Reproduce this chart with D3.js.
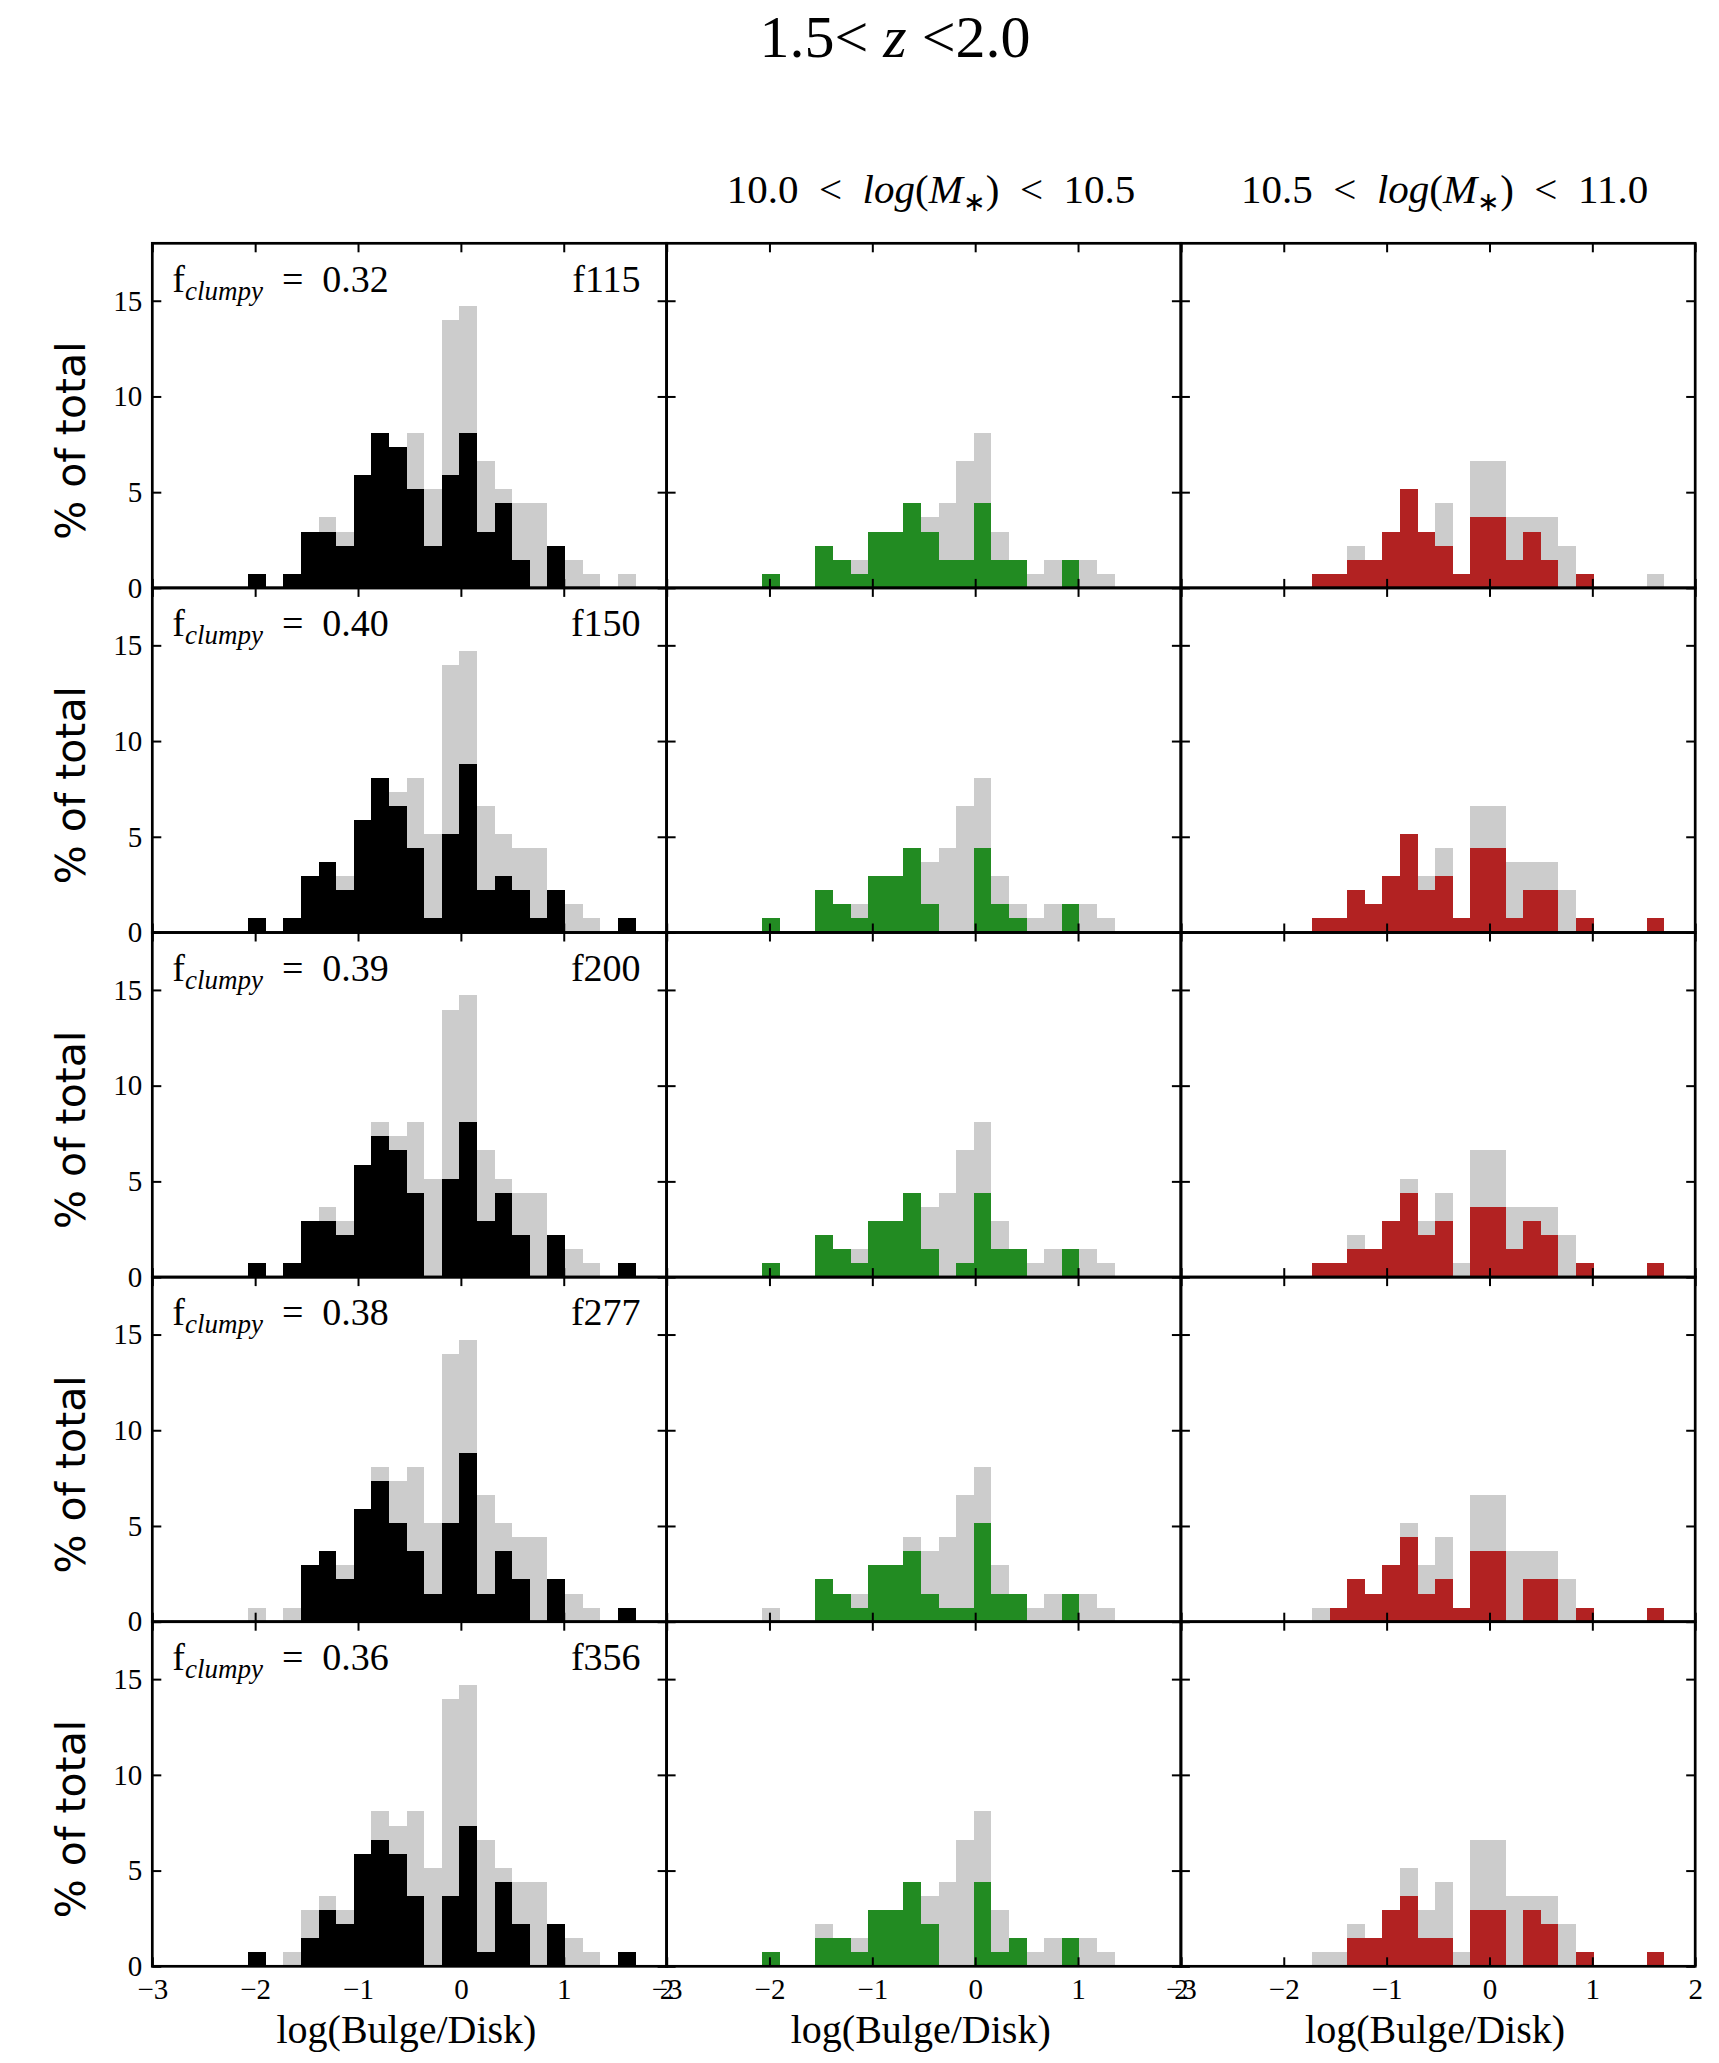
<!DOCTYPE html>
<html>
<head>
<meta charset="utf-8" />
<title>bulge/disk</title>
<script src="https://cdn.jsdelivr.net/npm/d3@7"></script>
<style>
  body { margin: 0; background: #fff; }
  text { font-family: "Liberation Serif", serif; white-space: pre; }
</style>
</head>
<body>
<svg width="1719" height="2063"></svg>
<script>
// bin edges of log(Bulge/Disk), 22 bins
var binEdges = [-2.068,-1.897,-1.726,-1.554,-1.383,-1.212,-1.041,-0.870,-0.698,-0.527,-0.356,
                -0.185,-0.014,0.158,0.329,0.500,0.671,0.842,1.013,1.185,1.356,1.527,1.698];
var filters = ["f115","f150","f200","f277","f356"];
var fClumpy = ["0.32","0.40","0.39","0.38","0.36"];
var massLow = ["10.0","10.5"];
var massHigh = ["10.5","11.0"];
var xTicks = [-3,-2,-1,0,1,2];
var yTicks = [0,5,10,15];

// % of total, all masses
var allGray  = [0.74,0,0.74,2.94,3.68,2.94,5.88,8.09,7.35,8.09,5.15,13.97,14.71,6.62,5.15,4.41,4.41,2.21,1.47,0.74,0,0.74];
var blackF115 = [0.74,0,0.74,2.94,2.94,2.21,5.88,8.09,7.35,5.15,2.21,5.88,8.09,2.94,4.41,1.47,0,2.21,0,0,0,0];
var blackF150 = [0.74,0,0.74,2.94,3.68,2.21,5.88,8.09,6.62,4.41,0.74,5.15,8.82,2.21,2.94,2.21,0.74,2.21,0,0,0,0.74];
var blackF200 = [0.74,0,0.74,2.94,2.94,2.21,5.88,7.35,6.62,4.41,0,5.15,8.09,2.94,4.41,2.21,0,2.21,0,0,0,0.74];
var blackF277 = [0,0,0,2.94,3.68,2.21,5.88,7.35,5.15,3.68,1.47,5.15,8.82,1.47,3.68,2.21,0,2.21,0,0,0,0.74];
var blackF356 = [0.74,0,0,1.47,2.94,2.21,5.88,6.62,5.88,3.68,0,3.68,7.35,0.74,4.41,2.21,0,2.21,0,0,0,0.74];

// 10.0 < log(M*) < 10.5
var midGray  = [0.74,0,0,2.21,1.47,1.47,2.94,2.94,4.41,3.68,4.41,6.62,8.09,2.94,1.47,0.74,1.47,1.47,1.47,0.74,0,0];
var greenF115 = [0.74,0,0,2.21,1.47,0.74,2.94,2.94,4.41,2.94,1.47,1.47,4.41,1.47,1.47,0,0,1.47,0,0,0,0];
var greenF150 = [0.74,0,0,2.21,1.47,0.74,2.94,2.94,4.41,1.47,0,0,4.41,1.47,0.74,0,0,1.47,0,0,0,0];
var greenF200 = [0.74,0,0,2.21,1.47,0.74,2.94,2.94,4.41,1.47,0,0.74,4.41,1.47,1.47,0,0,1.47,0,0,0,0];
var greenF277 = [0,0,0,2.21,1.47,0.74,2.94,2.94,3.68,1.47,0.74,0.74,5.15,1.47,1.47,0,0,1.47,0,0,0,0];
var greenF356 = [0.74,0,0,1.47,1.47,0.74,2.94,2.94,4.41,2.21,0,0,4.41,0.74,1.47,0,0,1.47,0,0,0,0];

// 10.5 < log(M*) < 11.0
var highGray = [0,0,0.74,0.74,2.21,1.47,2.94,5.15,2.94,4.41,0.74,6.62,6.62,3.68,3.68,3.68,2.21,0.74,0,0,0,0.74];
var redF115 = [0,0,0.74,0.74,1.47,1.47,2.94,5.15,2.94,2.21,0.74,3.68,3.68,1.47,2.94,1.47,0,0.74,0,0,0,0];
var redF150 = [0,0,0.74,0.74,2.21,1.47,2.94,5.15,2.21,2.94,0.74,4.41,4.41,0.74,2.21,2.21,0,0.74,0,0,0,0.74];
var redF200 = [0,0,0.74,0.74,1.47,1.47,2.94,4.41,2.21,2.94,0,3.68,3.68,1.47,2.94,2.21,0,0.74,0,0,0,0.74];
var redF277 = [0,0,0,0.74,2.21,1.47,2.94,4.41,1.47,2.21,0.74,3.68,3.68,0,2.21,2.21,0,0.74,0,0,0,0.74];
var redF356 = [0,0,0,0,1.47,1.47,2.94,3.68,1.47,1.47,0,2.94,2.94,0,2.94,2.21,0,0.74,0,0,0,0.74];

var columns = [
  {gray: allGray,  rows: [blackF115,blackF150,blackF200,blackF277,blackF356], color: "#000000"},
  {gray: midGray,  rows: [greenF115,greenF150,greenF200,greenF277,greenF356], color: "#228b22"},
  {gray: highGray, rows: [redF115,redF150,redF200,redF277,redF356], color: "#b22222"}
];

var svg = d3.select("svg");
var marge = {left:152.3, top:243.3};
var panelW = 514.3, panelH = 344.6;

var x = d3.scaleLinear().domain([-3,2]).range([0,panelW]);
var y = d3.scaleLinear().domain([0,18]).range([panelH,0]);

var fmt = function(d){ return d < 0 ? "\u2212" + (-d) : String(d); };

function bins(vals){
  return vals.map(function(v,i){ return {x0: binEdges[i], x1: binEdges[i+1], v: v}; })
             .filter(function(d){ return d.v > 0; });
}

function drawBars(g, vals, color){
  g.append('g').selectAll('rect')
    .data(bins(vals))
    .enter()
    .append('rect')
    .attr('x', d => x(d.x0))
    .attr('width', d => x(d.x1) - x(d.x0))
    .attr('y', d => y(d.v))
    .attr('height', d => y(0) - y(d.v))
    .attr('fill', color)
    .attr('shape-rendering','crispEdges');
}

function styleAxis(a){
  a.select('.domain').remove();
  a.selectAll('.tick line').attr('stroke','#000').attr('stroke-width',2);
  a.selectAll('.tick text').attr('font-size',29).attr('fill','#000');
}

columns.forEach(function(col,c){
  col.rows.forEach(function(vals,r){
    var g = svg.append('g')
      .attr('transform',`translate(${marge.left + c*panelW},${marge.top + r*panelH})`);

    drawBars(g, col.gray, '#cccccc');
    drawBars(g, vals, col.color);

    g.append('g').attr('transform',`translate(0,${panelH})`)
      .call(d3.axisBottom(x).tickValues(xTicks).tickSize(-9).tickPadding(12).tickFormat(r == 4 ? fmt : ''))
      .call(styleAxis);
    g.append('g')
      .call(d3.axisTop(x).tickValues(xTicks).tickSize(-9).tickFormat(''))
      .call(styleAxis);
    g.append('g')
      .call(d3.axisLeft(y).tickValues(yTicks).tickSize(-9).tickPadding(10).tickFormat(c == 0 ? fmt : ''))
      .call(styleAxis);
    g.append('g').attr('transform',`translate(${panelW},0)`)
      .call(d3.axisRight(y).tickValues(yTicks).tickSize(-9).tickFormat(''))
      .call(styleAxis);

    g.append('rect')
      .attr('width',panelW).attr('height',panelH)
      .attr('fill','none').attr('stroke','#000').attr('stroke-width',2.7);

    if (c == 0) {
      var t = g.append('text').attr('x',20).attr('y',48.4).attr('font-size',38);
      t.append('tspan').text('f');
      t.append('tspan').attr('font-style','italic').attr('font-size',27).attr('dy',8).text('clumpy');
      t.append('tspan').attr('dy',-8).text('  =  ' + fClumpy[r]);

      g.append('text').attr('x',panelW - 26).attr('y',48.4)
        .attr('text-anchor','end').attr('font-size',38).text(filters[r]);

      g.append('text')
        .attr('transform',`translate(${85 - marge.left},${panelH/2 + 25}) rotate(-90)`)
        .attr('text-anchor','middle')
        .style('font-family','"DejaVu Sans", sans-serif')
        .attr('font-size',41)
        .text('% of total');
    }

    if (r == 4) {
      g.append('text').attr('x',panelW/2 - 3).attr('y',panelH + 77)
        .attr('text-anchor','middle').attr('font-size',40).text('log(Bulge/Disk)');
    }
  });
});

// title
var title = svg.append('text').attr('x',895).attr('y',57).attr('text-anchor','middle').attr('font-size',60);
title.append('tspan').text('1.5< ');
title.append('tspan').attr('font-style','italic').text('z');
title.append('tspan').text(' <2.0');

// mass headers
function header(cx, lo, hi){
  var t = svg.append('text').attr('x',cx).attr('y',203).attr('text-anchor','middle').attr('font-size',41);
  t.append('tspan').text(lo + '  <  ');
  t.append('tspan').attr('font-style','italic').text('log');
  t.append('tspan').text('(');
  t.append('tspan').attr('font-style','italic').text('M');
  t.append('tspan').attr('font-size',27).attr('dy',8).text('\u2217');
  t.append('tspan').attr('dy',-8).text(')  <  ' + hi);
}
header(931, massLow[0], massLow[1]);
header(1444.6, massHigh[0], massHigh[1]);
</script>
</body>
</html>
